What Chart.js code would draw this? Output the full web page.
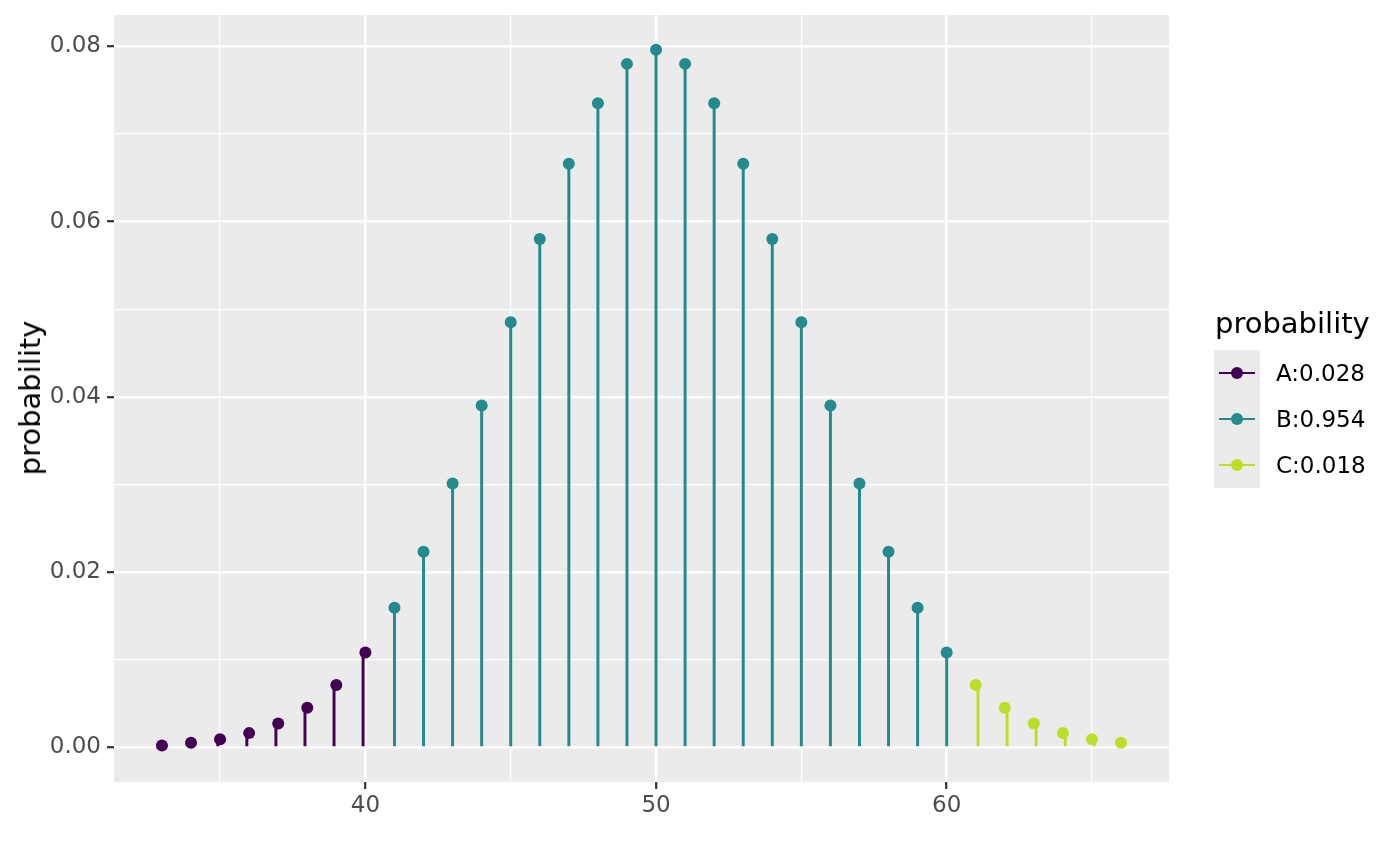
<!DOCTYPE html>
<html>
<head>
<meta charset="utf-8">
<script src="https://cdn.jsdelivr.net/npm/chart.js@4"></script>
<style>
  body { margin: 0; background: #fff; font-family: "DejaVu Sans", sans-serif; }
  #wrap { position: relative; width: 1400px; height: 866px; }
  #ytitle { position: absolute; left: 30px; top: 398px; transform: translate(-50%, -50%) rotate(-90deg);
            font-size: 29px; color: #000; white-space: nowrap; line-height: 34px; }
  #legend { position: absolute; left: 1214px; top: 306px; }
  #legend .title { font-size: 29px; line-height: 34px; margin-left: 1px; height: 44px; }
  #legend .row { display: flex; align-items: center; height: 46px; }
  #legend .key { position: relative; width: 46px; height: 46px; background: #EBEBEB; }
  #legend .key .ln { position: absolute; left: 5px; width: 36px; top: 22px; height: 2.3px; }
  #legend .key .pt { position: absolute; left: 17px; top: 17px; width: 12px; height: 12px; border-radius: 50%; }
  #legend .lab { font-size: 23px; margin-left: 16px; color: #000; }
</style>
</head>
<body>
<div id="wrap">
  <canvas id="myChart" width="1400" height="866"></canvas>
  <div id="ytitle">probability</div>
  <div id="legend"></div>
</div>
<script>
// binomial-looking stems
var xA = [33, 34, 35, 36, 37, 38, 39, 40]
var yA = [0.0002, 0.0005, 0.0009, 0.0016, 0.0027, 0.0045, 0.0071, 0.0108]
var xB = [41, 42, 43, 44, 45, 46, 47, 48, 49, 50, 51, 52, 53, 54, 55, 56, 57, 58, 59, 60]
var yB = [0.0159, 0.0223, 0.0301, 0.0390, 0.0485, 0.0580, 0.0666, 0.0735, 0.0780, 0.0796,
          0.0780, 0.0735, 0.0666, 0.0580, 0.0485, 0.0390, 0.0301, 0.0223, 0.0159, 0.0108]
var xC = [61, 62, 63, 64, 65, 66]
var yC = [0.0071, 0.0045, 0.0027, 0.0016, 0.0009, 0.0005]

var groups = ['A:0.028', 'B:0.954', 'C:0.018']
var colors = ['#440154', '#238A8D', '#BBDF27']

var xMajor = [40, 50, 60]
var xMinor = [35, 45, 55, 65]
var yMajor = [0, 0.02, 0.04, 0.06, 0.08]
var yMinor = [0.01, 0.03, 0.05, 0.07]

function pts(xs, ys) {
  return xs.map(function (x, i) { return { x: x, y: ys[i] } })
}

var series = [[xA, yA], [xB, yB], [xC, yC]]
var datasets = []
series.forEach(function (s, i) {
  datasets.push({
    type: 'bar', data: pts(s[0], s[1]), backgroundColor: colors[i],
    barThickness: 2.3, borderWidth: 0, order: 2
  })
  datasets.push({
    type: 'scatter', data: pts(s[0], s[1]), backgroundColor: colors[i],
    pointRadius: 6, pointHoverRadius: 6, borderWidth: 0, order: 1
  })
})

var panelBg = {
  id: 'panelBg',
  beforeDraw: function (chart) {
    var a = chart.chartArea
    var c = chart.ctx
    c.save()
    c.fillStyle = '#EBEBEB'
    c.fillRect(a.left, a.top, a.right - a.left, a.bottom - a.top)
    c.restore()
  }
}

var tickFont = { family: 'DejaVu Sans', size: 23 }

const ctx = document.getElementById('myChart')
new Chart(ctx, {
  type: 'scatter',
  data: { datasets: datasets },
  options: {
    responsive: false,
    animation: false,
    layout: { padding: { left: 0, right: 231, top: 15, bottom: 0 } },
    plugins: { legend: { display: false }, tooltip: { enabled: false } },
    scales: {
      x: {
        type: 'linear', min: 31.35, max: 67.65, offset: false,
        afterBuildTicks: function (s) {
          s.ticks = xMinor.concat(xMajor).sort(function (a, b) { return a - b }).map(function (v) { return { value: v } })
        },
        afterFit: function (s) { s.height = 84; s.paddingLeft = 0; s.paddingRight = 0 },
        border: { display: false },
        grid: {
          offset: false,
          color: '#FFFFFF',
          lineWidth: function (c) { return xMajor.indexOf(c.tick.value) >= 0 ? 2.4 : 1.2 },
          tickLength: 7,
          tickWidth: 2.2,
          tickColor: function (c) { return xMajor.indexOf(c.tick.value) >= 0 ? '#333333' : 'rgba(0,0,0,0)' }
        },
        ticks: {
          autoSkip: false, maxRotation: 0, padding: 3, color: '#4D4D4D', font: tickFont,
          callback: function (v) { return xMajor.indexOf(v) >= 0 ? String(v) : '' }
        }
      },
      y: {
        type: 'linear', min: -0.00398, max: 0.08358,
        afterBuildTicks: function (s) {
          s.ticks = yMinor.concat(yMajor).sort(function (a, b) { return a - b }).map(function (v) { return { value: v } })
        },
        afterFit: function (s) { s.width = 114; s.paddingTop = 0; s.paddingBottom = 0 },
        border: { display: false },
        grid: {
          color: '#FFFFFF',
          lineWidth: function (c) { return yMajor.indexOf(c.tick.value) >= 0 ? 2.4 : 1.2 },
          tickLength: 7,
          tickWidth: 2.2,
          tickColor: function (c) { return yMajor.indexOf(c.tick.value) >= 0 ? '#333333' : 'rgba(0,0,0,0)' }
        },
        ticks: {
          autoSkip: false, padding: 6, color: '#4D4D4D', font: tickFont,
          callback: function (v) { return yMajor.indexOf(v) >= 0 ? v.toFixed(2) : '' }
        }
      }
    }
  },
  plugins: [panelBg]
})

// legend
var lg = document.getElementById('legend')
var html = '<div class="title">probability</div>'
groups.forEach(function (g, i) {
  html += '<div class="row"><div class="key"><div class="ln" style="background:' + colors[i] + '"></div>' +
          '<div class="pt" style="background:' + colors[i] + '"></div></div>' +
          '<div class="lab">' + g + '</div></div>'
})
lg.innerHTML = html
</script>
</body>
</html>
